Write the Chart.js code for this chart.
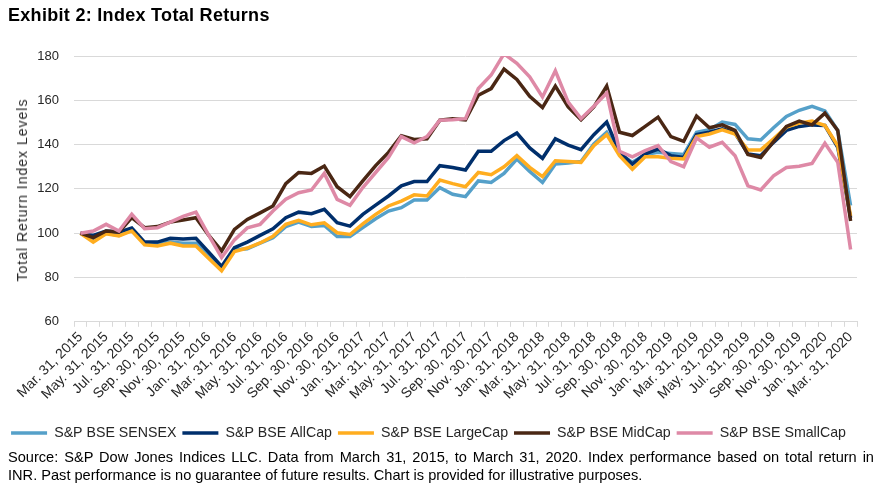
<!DOCTYPE html>
<html>
<head>
<meta charset="utf-8">
<script src="https://cdn.jsdelivr.net/npm/chart.js@4.4.1/dist/chart.umd.min.js"></script>
<style>
  body { margin: 0; background: #fff; font-family: "Liberation Sans", Arial, sans-serif; }
  #wrap { position: relative; width: 881px; height: 489px; }
  #title { position: absolute; left: 8px; top: 5px; font-size: 18px; font-weight: bold; letter-spacing: 0.3px; color: #000; }
  #box { position: absolute; left: 0; top: 0; width: 881px; height: 450px; }
  #ytitle { position: absolute; left: 22px; top: 190px; width: 0; height: 0; }
  #ytitle span { position: absolute; white-space: nowrap; transform: translate(-50%, -50%) rotate(-90deg);
                 font-size: 14px; letter-spacing: 1px; color: #262626; }
  #source { position: absolute; left: 8px; top: 448px; width: 866px; font-size: 14.6px; line-height: 18px; color: #000; }
  #source .l1 { text-align: justify; text-align-last: justify; white-space: nowrap; }
</style>
</head>
<body>
<div id="wrap">
  <div id="box"><canvas id="chart"></canvas></div>
  <div id="title">Exhibit 2: Index Total Returns</div>
  <div id="ytitle"><span>Total Return Index Levels</span></div>
  <div id="source">
    <div class="l1">Source: S&amp;P Dow Jones Indices LLC. Data from March 31, 2015, to March 31, 2020. Index performance based on total return in</div>
    <div>INR. Past performance is no guarantee of future results. Chart is provided for illustrative purposes.</div>
  </div>
</div>
<script>
const categories = [
  "Mar. 31, 2015", "Apr. 30, 2015", "May. 31, 2015", "Jun. 30, 2015", "Jul. 31, 2015", "Aug. 31, 2015",
  "Sep. 30, 2015", "Oct. 31, 2015", "Nov. 30, 2015", "Dec. 31, 2015",
  "Jan. 31, 2016", "Feb. 29, 2016", "Mar. 31, 2016", "Apr. 30, 2016", "May. 31, 2016", "Jun. 30, 2016",
  "Jul. 31, 2016", "Aug. 31, 2016", "Sep. 30, 2016", "Oct. 31, 2016", "Nov. 30, 2016", "Dec. 31, 2016",
  "Jan. 31, 2017", "Feb. 28, 2017", "Mar. 31, 2017", "Apr. 30, 2017", "May. 31, 2017", "Jun. 30, 2017",
  "Jul. 31, 2017", "Aug. 31, 2017", "Sep. 30, 2017", "Oct. 31, 2017", "Nov. 30, 2017", "Dec. 31, 2017",
  "Jan. 31, 2018", "Feb. 28, 2018", "Mar. 31, 2018", "Apr. 30, 2018", "May. 31, 2018", "Jun. 30, 2018",
  "Jul. 31, 2018", "Aug. 31, 2018", "Sep. 30, 2018", "Oct. 31, 2018", "Nov. 30, 2018", "Dec. 31, 2018",
  "Jan. 31, 2019", "Feb. 28, 2019", "Mar. 31, 2019", "Apr. 30, 2019", "May. 31, 2019", "Jun. 30, 2019",
  "Jul. 31, 2019", "Aug. 31, 2019", "Sep. 30, 2019", "Oct. 31, 2019", "Nov. 30, 2019", "Dec. 31, 2019",
  "Jan. 31, 2020", "Feb. 29, 2020", "Mar. 31, 2020"
];

const sensex = [
  100, 97, 100, 99, 101.5, 95.5, 95, 96, 95.5, 95.5,
  89.5, 84, 92.5, 93, 95.5, 98, 103, 105, 103, 103.5, 98.5, 98.5,
  102.5, 106.5, 110, 111.5, 115, 115, 120.6, 117.6, 116.5, 123.6, 122.9, 127,
  133.5, 127.9, 122.9, 131.2, 131.7, 132.4, 140.3, 145.6, 136, 132, 135.5, 136.5,
  136, 135.5, 145.6, 146.7, 150.2, 149.1, 142.6, 142.1, 147.6, 152.7, 155.5, 157.3,
  155.2, 146.4, 112.5
];
const allCap = [
  100, 99, 101, 100.5, 102.3, 96, 96, 97.7, 97.4, 97.7,
  91.4, 85, 93.5, 96, 99, 102, 107, 109.5, 108.8, 110.8, 104.7, 103.2,
  108.5, 112.7, 116.8, 121.4, 123.3, 123.3, 130.5, 129.7, 128.5, 137, 137, 141.8,
  145.2, 138.5, 133.8, 142.6, 139.8, 137.7, 144.5, 150.2, 136.5, 131.2, 135.8, 138,
  135, 134.2, 144.5, 145.6, 147.1, 145.2, 135.8, 135, 141, 146.4, 148.2, 148.9,
  148.6, 138.8, 107
];
const largeCap = [
  100, 96, 99.7, 98.8, 101, 94.7, 94.2, 95.5, 94.2, 94.2,
  88.6, 83, 91.7, 93.3, 95.6, 98.6, 104, 105.8, 103.8, 104.7, 100.2, 99.4,
  104.2, 108.5, 112.3, 114.5, 117.3, 116.8, 124, 122.4, 121, 127.4, 126.4, 130,
  135, 129.7, 125.5, 132.7, 132.4, 132, 139.5, 144.5, 135, 128.9, 134.5, 134.5,
  133.8, 133.5, 143.6, 144.8, 146.7, 144.8, 137.6, 137.6, 142.6, 147.9, 149.7, 150.6,
  148.6, 139.5, 107.7
];
const midCap = [
  100, 98, 101, 100.5, 107, 102.5, 103, 105, 106, 107,
  99, 92, 101.7, 106.2, 109.2, 112.3, 122.4, 127.4, 127, 130.3, 121, 116.5,
  123.6, 130.5, 136.5, 144, 142.3, 142.6, 151, 151.7, 151.2, 162.3, 165.3, 174.1,
  169.4, 161.8, 156.7, 166.4, 157, 151.2, 157, 166.4, 145.6, 144.1, 148.2, 152.4,
  143.6, 141.5, 152.9, 147.6, 148.9, 146.4, 135.5, 134.2, 141.4, 148.2, 150.6, 148.9,
  154.2, 146.4, 105.5
];
const smallCap = [
  100, 101, 104, 101, 108.6, 102, 102.5, 105, 107.6, 109.5,
  99, 89, 97, 102.4, 104, 110, 115.3, 118.3, 119.5, 127, 115.3, 112.6,
  120.6, 127.4, 134.2, 143.6, 140.8, 143.6, 151, 151.2, 151.7, 165.3, 171.4, 181,
  176.7, 170.6, 161.5, 173.3, 159.2, 151.7, 157.3, 163.3, 137, 134.5, 137.3, 139.5,
  132.3, 130, 143, 138.8, 141, 135, 121.4, 119.5, 125.9, 129.7, 130.2, 131.5,
  140.6, 132, 92.6
];

const yTicks = [60, 80, 100, 120, 140, 160, 180];

const FONT = "'Liberation Sans', Arial, sans-serif";
const TEXT = "#262626";

function series(label, data, color, order) {
  return {
    label: label,
    data: data,
    borderColor: color,
    backgroundColor: color,
    borderWidth: 3.5,
    pointRadius: 0,
    pointHoverRadius: 0,
    tension: 0,
    order: order,
  };
}

const config = {
  type: "line",
  data: {
    labels: categories,
    datasets: [
      series("S&P BSE SENSEX", sensex, "#55A0C9", 5),
      series("S&P BSE AllCap", allCap, "#002F6C", 4),
      series("S&P BSE LargeCap", largeCap, "#FFAD1F", 3),
      series("S&P BSE MidCap", midCap, "#4A2714", 2),
      series("S&P BSE SmallCap", smallCap, "#DE89A6", 1),
    ],
  },
  options: {
    responsive: true,
    maintainAspectRatio: false,
    animation: false,
    layout: { padding: { top: 56, right: 24, left: 0, bottom: 0 } },
    plugins: {
      tooltip: { enabled: false },
      title: { display: false },
      legend: {
        position: "bottom",
        labels: {
          usePointStyle: true,
          pointStyle: "line",
          pointStyleWidth: 36,
          boxHeight: 14,
          padding: 6,
          color: TEXT,
          font: { family: FONT, size: 14.2 },
          sort: (a, b) => a.datasetIndex - b.datasetIndex,
        },
      },
    },
    scales: {
      x: {
        offset: true,
        grid: {
          offset: true,
          drawOnChartArea: false,
          drawTicks: true,
          tickLength: 5,
          color: "#D9D9D9",
        },
        border: { color: "#D9D9D9" },
        ticks: {
          autoSkip: false,
          maxRotation: 45,
          minRotation: 45,
          padding: 2,
          color: TEXT,
          font: { family: FONT, size: 14 },
          callback: (v, i) => (i % 2 === 0 ? categories[i] : ""),
        },
        afterFit: (scale) => { scale.height = 98; },
      },
      y: {
        min: 60,
        max: 180,
        afterBuildTicks: (scale) => { scale.ticks = yTicks.map((v) => ({ value: v })); },
        grid: { color: "#D9D9D9", drawTicks: false, lineWidth: 1 },
        border: { display: false },
        ticks: {
          padding: 15,
          color: TEXT,
          font: { family: FONT, size: 13 },
        },
        afterFit: (scale) => { scale.width = 74; },
      },
    },
  },
};

const chart = new Chart(document.getElementById("chart").getContext("2d"), config);
</script>
</body>
</html>
